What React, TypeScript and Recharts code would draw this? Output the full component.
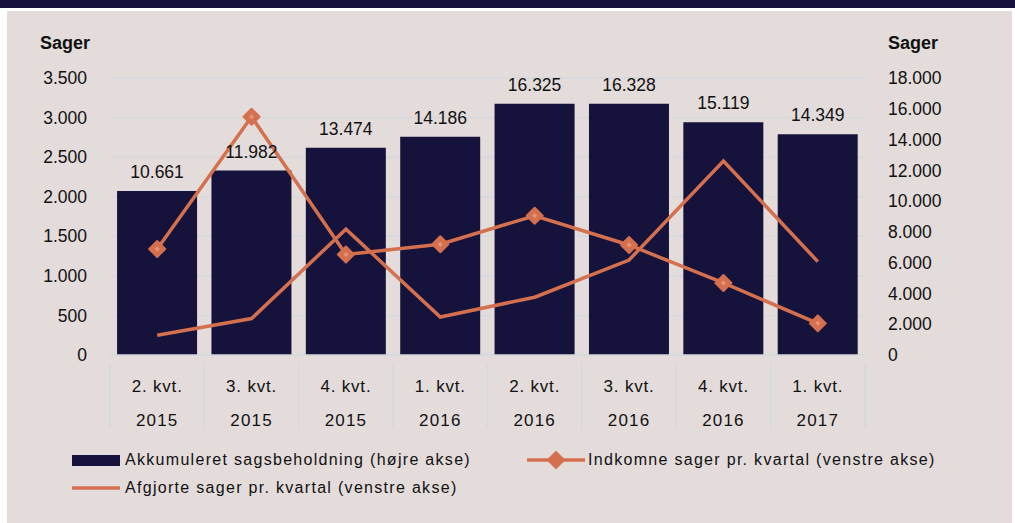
import React from 'react';
import { ComposedChart, Bar, Line, XAxis, YAxis, CartesianGrid, LabelList } from 'recharts';

const quarters = ['2. kvt.', '3. kvt.', '4. kvt.', '1. kvt.', '2. kvt.', '3. kvt.', '4. kvt.', '1. kvt.'];
const years = ['2015', '2015', '2015', '2016', '2016', '2016', '2016', '2017'];
const akkumuleret = [10661, 11982, 13474, 14186, 16325, 16328, 15119, 14349];
const indkomne = [1340, 3010, 1270, 1400, 1760, 1390, 910, 400];
const afgjorte = [250, 460, 1590, 480, 730, 1200, 2450, 1180];
const leftTicks = [0, 500, 1000, 1500, 2000, 2500, 3000, 3500];
const rightTicks = [0, 2000, 4000, 6000, 8000, 10000, 12000, 14000, 16000, 18000];

const data = quarters.map((q, i) => ({
  key: i,
  quarter: q,
  year: years[i],
  akkumuleret: akkumuleret[i],
  indkomne: indkomne[i],
  afgjorte: afgjorte[i],
}));

const W = 1015;
const H = 523;
const LEFT = 110;
const RIGHT = 150;
const TOP = 78;
const XAXIS_H = 168;
const BAND = (W - LEFT - RIGHT) / quarters.length;

const NAVY = '#15133b';
const ORANGE = '#d5704f';
const BG = '#e4dcdb';
const GRID = '#d5d8dc';
const FONT = '"Liberation Sans", Arial, Helvetica, sans-serif';

const fmt = (v: number) => v.toLocaleString('da-DK');

const Diamond = (props: any) => {
  const { cx, cy } = props;
  if (cx == null || cy == null) return null;
  const r = 8;
  return (
    <g>
      <polygon
        points={`${cx},${cy - r} ${cx + r},${cy} ${cx},${cy + r} ${cx - r},${cy}`}
        fill={ORANGE}
        stroke={ORANGE}
        strokeWidth={2}
        strokeLinejoin="round"
      />
      <polygon
        points={`${cx},${cy - 2.5} ${cx + 2.5},${cy} ${cx},${cy + 2.5} ${cx - 2.5},${cy}`}
        fill="#e3957b"
      />
    </g>
  );
};

const CategoryTick = (props: any) => {
  const { x, y, payload, index } = props;
  const i = payload.index ?? index;
  const left = x - BAND / 2;
  return (
    <g>
      <line x1={left} y1={y} x2={left} y2={y + 66} stroke={GRID} strokeWidth={1.5} />
      {i === quarters.length - 1 && (
        <line x1={left + BAND} y1={y} x2={left + BAND} y2={y + 66} stroke={GRID} strokeWidth={1.5} />
      )}
      <text x={x} y={y + 29} textAnchor="middle" fontSize={17} letterSpacing={0.8} fill="#111" fontFamily={FONT}>
        {quarters[i]}
      </text>
      <text x={x} y={y + 63} textAnchor="middle" fontSize={17} letterSpacing={1.2} fill="#111" fontFamily={FONT}>
        {years[i]}
      </text>
    </g>
  );
};

const legendText: React.CSSProperties = {
  position: 'absolute',
  fontFamily: FONT,
  fontSize: 16,
  letterSpacing: 1.3,
  color: '#111',
  whiteSpace: 'nowrap',
  lineHeight: '18px',
};

export default function App() {
  return (
    <div style={{ position: 'absolute', left: 0, top: 0, width: W, height: H, background: '#fff', overflow: 'hidden' }}>
      <div style={{ position: 'absolute', left: 0, top: 0, width: W, height: 8, background: NAVY }} />
      <div style={{ position: 'absolute', left: 7, top: 11, width: W - 10, height: H - 11, background: BG }} />
      <div style={{ position: 'absolute', left: 0, top: 0 }}>
        <ComposedChart
          width={W}
          height={H}
          data={data}
          margin={{ top: TOP, right: 0, bottom: 0, left: 0 }}
          barCategoryGap="7.5%"
        >
          <CartesianGrid yAxisId="left" vertical={false} stroke={GRID} strokeWidth={1.5} />
          <XAxis
            dataKey="key"
            height={XAXIS_H}
            axisLine={{ stroke: GRID, strokeWidth: 1.5 }}
            tickLine={false}
            interval={0}
            tick={<CategoryTick />}
          />
          <YAxis
            yAxisId="left"
            orientation="left"
            width={LEFT}
            domain={[0, 3500]}
            ticks={leftTicks}
            tickFormatter={fmt}
            axisLine={false}
            tickLine={false}
            tickMargin={17}
            tick={{ fill: '#111', fontSize: 17.5, fontFamily: FONT }}
          />
          <YAxis
            yAxisId="right"
            orientation="right"
            width={RIGHT}
            domain={[0, 18000]}
            ticks={rightTicks}
            tickFormatter={fmt}
            axisLine={false}
            tickLine={false}
            tickMargin={17}
            tick={{ fill: '#111', fontSize: 17.5, fontFamily: FONT, textAnchor: 'start' }}
          />
          <Bar yAxisId="right" dataKey="akkumuleret" fill={NAVY} isAnimationActive={false}>
            <LabelList
              dataKey="akkumuleret"
              position="top"
              offset={13}
              formatter={(v: any) => fmt(Number(v))}
              style={{ fill: '#111', fontSize: 17.5, fontFamily: FONT }}
            />
          </Bar>
          <Line
            yAxisId="left"
            dataKey="afgjorte"
            stroke={ORANGE}
            strokeWidth={3.5}
            dot={false}
            activeDot={false}
            type="linear"
            isAnimationActive={false}
          />
          <Line
            yAxisId="left"
            dataKey="indkomne"
            stroke={ORANGE}
            strokeWidth={3.5}
            dot={<Diamond />}
            activeDot={false}
            type="linear"
            isAnimationActive={false}
          />
        </ComposedChart>
      </div>

      <div style={{ position: 'absolute', left: 40, top: 33, fontFamily: FONT, fontWeight: 'bold', fontSize: 18, color: '#111' }}>Sager</div>
      <div style={{ position: 'absolute', left: 888, top: 33, fontFamily: FONT, fontWeight: 'bold', fontSize: 18, color: '#111' }}>Sager</div>

      <div style={{ position: 'absolute', left: 72, top: 455, width: 48, height: 11, background: NAVY }} />
      <div style={{ ...legendText, left: 125, top: 451 }}>Akkumuleret sagsbeholdning (højre akse)</div>

      <svg style={{ position: 'absolute', left: 520, top: 448 }} width={70} height={24}>
        <line x1={7} y1={12} x2={65} y2={12} stroke={ORANGE} strokeWidth={3.5} />
        <polygon points="36,4 44,12 36,20 28,12" fill={ORANGE} stroke={ORANGE} strokeWidth={2} strokeLinejoin="round" />
      </svg>
      <div style={{ ...legendText, left: 588, top: 451 }}>Indkomne sager pr. kvartal (venstre akse)</div>

      <svg style={{ position: 'absolute', left: 65, top: 476 }} width={62} height={24}>
        <line x1={7} y1={12} x2={55} y2={12} stroke={ORANGE} strokeWidth={3.5} />
      </svg>
      <div style={{ ...legendText, left: 125, top: 479 }}>Afgjorte sager pr. kvartal (venstre akse)</div>
    </div>
  );
}
